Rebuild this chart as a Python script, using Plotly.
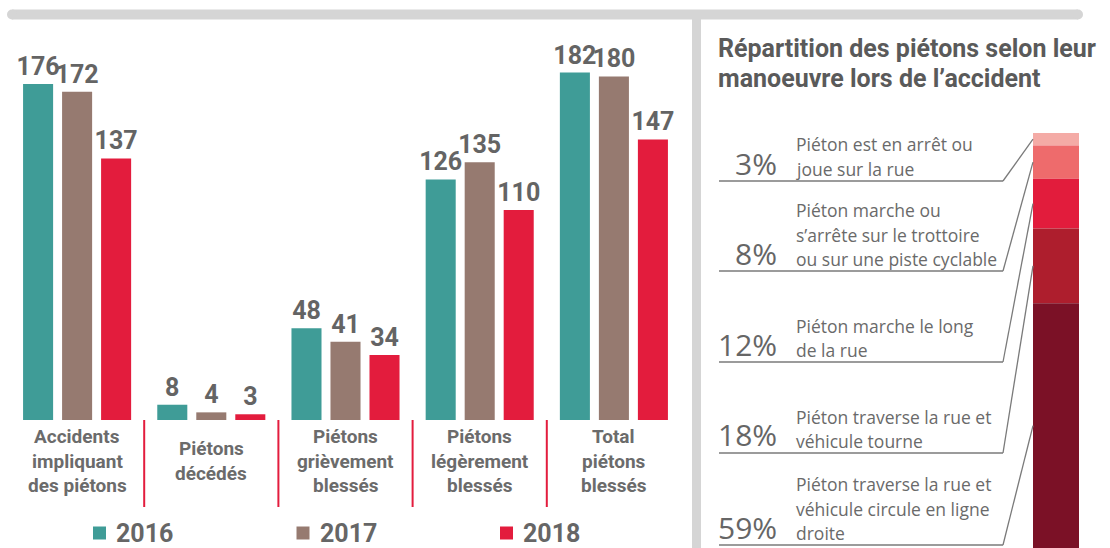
import plotly.graph_objects as go

W, H = 1110, 548

# ---------------- data ----------------
categories = ["Accidents<br>impliquant<br>des piétons", "Piétons<br>décédés",
              "Piétons<br>grièvement<br>blessés", "Piétons<br>légèrement<br>blessés",
              "Total<br>piétons<br>blessés"]
years = ["2016", "2017", "2018"]
v2016 = [176, 8, 48, 126, 182]
v2017 = [172, 4, 41, 135, 180]
v2018 = [137, 3, 34, 110, 147]
year_colors = ["#3f9c97", "#967a70", "#e31c3d"]

panel_title = ["Répartition des piétons selon leur", "manoeuvre lors de l’accident"]
manoeuvres = ["Piéton est en arrêt ou<br>joue sur la rue",
              "Piéton marche ou<br>s’arrête sur le trottoire<br>ou sur une piste cyclable",
              "Piéton marche le long<br>de la rue",
              "Piéton traverse la rue et<br>véhicule tourne",
              "Piéton traverse la rue et<br>véhicule circule en ligne<br>droite"]
shares = [3, 8, 12, 18, 59]
share_colors = ["#f4aba6", "#ee6b6c", "#e21c3c", "#ae1e2d", "#7b1126"]

# ---------------- helpers (pixel -> paper) ----------------
def px(x):
    return x / W

def py(y):
    return 1 - y / H

BOLD = dict(family="Roboto", weight=700)

fig = go.Figure()

# left grouped bars
for name, vals, col in zip(years, [v2016, v2017, v2018], year_colors):
    fig.add_trace(go.Bar(
        x=categories, y=vals, name=name, marker=dict(color=col, line=dict(width=0)),
        text=vals, texttemplate="%{text}", textposition="outside", constraintext="none",
        textfont=dict(size=25, color="#646464", **BOLD), showlegend=False,
        cliponaxis=False, hoverinfo="skip", xaxis="x", yaxis="y"))

# right stacked bar (top to bottom)
base = 0
for lab, s, col in zip(manoeuvres, shares, share_colors):
    fig.add_trace(go.Bar(
        x=[0], y=[s], base=[base], width=[1], offsetgroup="r",
        marker=dict(color=col, line=dict(width=0)), showlegend=False,
        hoverinfo="skip", xaxis="x2", yaxis="y2"))
    base += s

Y_DOM = [py(420), py(38.2)]
Y2_DOM = [0, py(133)]

shapes = []
annotations = []

# decorative frame: top rounded bar + vertical divider
FRAME = "#d5d5d5"
shapes.append(dict(type="rect", xref="paper", yref="paper", x0=px(12), x1=px(1078),
                   y0=py(19.5), y1=py(9.5), fillcolor=FRAME, line=dict(width=0), layer="below"))
for cx in (12, 1078):
    shapes.append(dict(type="circle", xref="paper", yref="paper", x0=px(cx - 5), x1=px(cx + 5),
                       y0=py(19.5), y1=py(9.5), fillcolor=FRAME, line=dict(width=0), layer="below"))
shapes.append(dict(type="rect", xref="paper", yref="paper", x0=px(692), x1=px(701),
                   y0=0, y1=py(14), fillcolor=FRAME, line=dict(width=0), layer="below"))

# red separators between categories
for i in range(len(categories) - 1):
    shapes.append(dict(type="line", xref="x", yref="paper", x0=i + 0.5, x1=i + 0.5,
                       y0=py(420), y1=py(507), line=dict(color="#e31c3d", width=2)))

# category labels (one annotation per line for spacing control)
for cat in categories:
    lines = cat.split("<br>")
    n = len(lines)
    for j, ln in enumerate(lines):
        cy = 461 + (j - (n - 1) / 2) * 24.5
        annotations.append(dict(x=cat, xref="x", y=py(cy), yref="paper", text=ln,
                                showarrow=False, xanchor="center", yanchor="middle",
                                font=dict(size=19, color="#6b6b6b", **BOLD)))

# legend (square swatch + year label), kept inside the page
LEG_X0, LEG_STEP, LEG_Y = 93, 203.5, 533
for i, (yr, col) in enumerate(zip(years, year_colors)):
    lx = LEG_X0 + i * LEG_STEP
    shapes.append(dict(type="rect", xref="paper", yref="paper", x0=px(lx), x1=px(lx + 13),
                       y0=py(LEG_Y + 6.5), y1=py(LEG_Y - 6.5), fillcolor=col,
                       line=dict(width=0)))
    annotations.append(dict(x=px(lx + 21), xref="paper", y=py(LEG_Y), yref="paper", text=yr,
                            showarrow=False, xanchor="left", yanchor="middle",
                            font=dict(size=25, color="#666666", **BOLD)))

# right panel title
for k, t in enumerate(panel_title):
    annotations.append(dict(x=px(716), xref="paper", y=py(48 + 30 * k), yref="paper", text=t,
                            showarrow=False, xanchor="left", yanchor="middle",
                            font=dict(size=25, color="#5a5a5a", **BOLD)))

# right labels, underlines, leader lines
underlines = [181, 271, 362, 453, 545]
cum = 0
for lab, s, uy in zip(manoeuvres, shares, underlines):
    mid = cum + s / 2
    cum += s
    head_y = Y2_DOM[1] - mid / 100 * (Y2_DOM[1] - Y2_DOM[0])
    shapes.append(dict(type="line", xref="paper", yref="paper", x0=px(719), x1=px(1003),
                       y0=py(uy), y1=py(uy), line=dict(color="#7a7a7a", width=1.3)))
    shapes.append(dict(type="line", xref="paper", yref="paper", x0=px(1003), x1=px(1033),
                       y0=py(uy), y1=head_y, line=dict(color="#7a7a7a", width=1.3)))
    annotations.append(dict(x=px(779), xref="paper", y=py(uy - 18), yref="paper",
                            text=f"{s}%", showarrow=False, xanchor="right", yanchor="middle",
                            font=dict(family="Open Sans", size=30, color="#666666", weight=400)))
    lines = lab.split("<br>")
    n = len(lines)
    for j, ln in enumerate(lines):
        cy = uy - 12 - (n - 1 - j) * 24.5
        annotations.append(dict(x=px(794), xref="paper", y=py(cy), yref="paper", text=ln,
                                showarrow=False, xanchor="left", yanchor="middle",
                                font=dict(family="Open Sans", size=17.5, color="#6a6a6a")))

fig.update_layout(
    width=W, height=H, margin=dict(l=0, r=0, t=0, b=0), autosize=False,
    paper_bgcolor="white", plot_bgcolor="rgba(0,0,0,0)",
    barmode="group", bargap=0.128, bargroupgap=0.23,
    xaxis=dict(domain=[px(10), px(681)], range=[-0.5, 4.5], type="category",
               categoryorder="array", categoryarray=categories,
               showticklabels=False, showgrid=False, zeroline=False, showline=False,
               fixedrange=True),
    yaxis=dict(domain=Y_DOM, range=[0, 200], visible=False, fixedrange=True),
    xaxis2=dict(domain=[px(1033), px(1079)], range=[-0.5, 0.5], anchor="y2",
                visible=False, fixedrange=True),
    yaxis2=dict(domain=Y2_DOM, range=[100, 0], anchor="x2", visible=False, fixedrange=True),
    showlegend=False,
    shapes=shapes, annotations=annotations,
    font=dict(family="Roboto"),
)
fig.write_html("out.html",
               config={"displayModeBar": False, "staticPlot": True, "responsive": False},
               post_script=("document.documentElement.style.margin='0';"
                            "document.body.style.margin='0';"
                            "document.body.style.overflow='hidden';"
                            "document.documentElement.style.overflow='hidden';"))
